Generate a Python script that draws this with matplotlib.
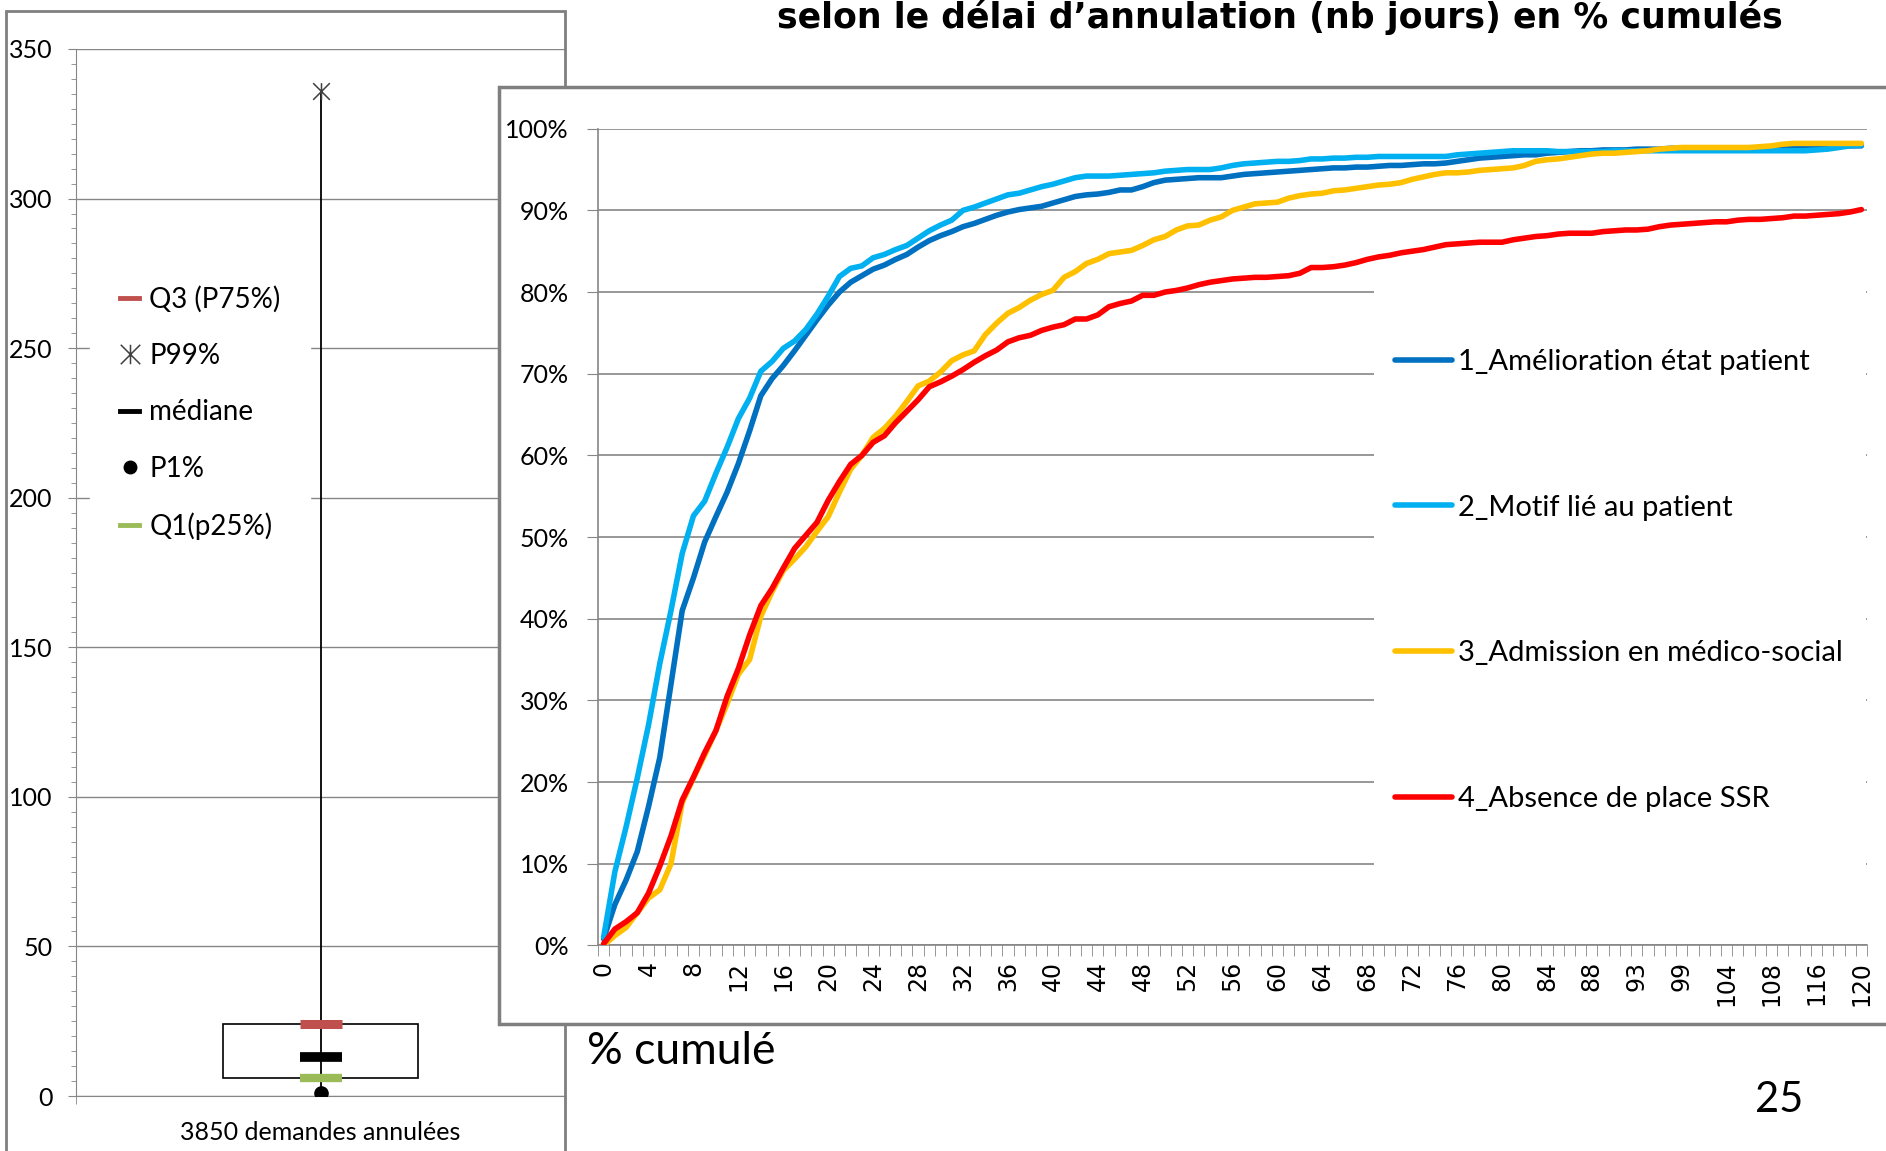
import numpy as np
import matplotlib
matplotlib.use('Agg')
import matplotlib.pyplot as plt
from matplotlib.patches import Rectangle
from matplotlib.lines import Line2D
from matplotlib.path import Path
from matplotlib.ticker import MultipleLocator

plt.rcParams['font.family'] = ['Lato', 'DejaVu Sans']

# ---- left panel : spread of the cancellation delay (days)
box_label = '3850 demandes annulées'
p1, q1, median, q3, p99 = 1, 6, 13, 24, 336
legend_left = ['Q3 (P75%)', 'P99%', 'médiane', 'P1%', 'Q1(p25%)']

# ---- right panel : cumulated % by cancellation delay (nb days)
days = list(range(0, 92)) + [93, 94, 95, 97, 99, 100, 101, 102, 104, 105, 106,
                             107, 108, 110, 112, 114, 116, 117, 118, 119, 120]

names = ['1_Amélioration état patient', '2_Motif lié au patient',
         '3_Admission en médico-social', '4_Absence de place SSR']
colors = ['#0070C0', '#00B0F0', '#FFC000', '#FF0000']

amelioration = [0.8, 5.0, 8.0, 11.5, 17.0, 23.0, 32.0, 41.0, 45.0, 49.4,
                52.5, 55.5, 59.0, 63.0, 67.3, 69.4, 71.0, 72.8, 74.7, 76.6,
                78.4, 80.0, 81.2, 82.0, 82.8, 83.3, 84.0, 84.6, 85.5, 86.3,
                86.9, 87.4, 88.0, 88.4, 88.9, 89.4, 89.8, 90.1, 90.3, 90.5,
                90.9, 91.3, 91.7, 91.9, 92.0, 92.2, 92.5, 92.5, 92.9, 93.4,
                93.7, 93.8, 93.9, 94.0, 94.0, 94.0, 94.2, 94.4, 94.5, 94.6,
                94.7, 94.8, 94.9, 95.0, 95.1, 95.2, 95.2, 95.3, 95.3, 95.4,
                95.5, 95.5, 95.6, 95.7, 95.7, 95.8, 96.0, 96.2, 96.4, 96.5,
                96.6, 96.7, 96.8, 96.8, 97.0, 97.1, 97.2, 97.3, 97.3, 97.4,
                97.4, 97.4, 97.5, 97.5, 97.5, 97.6, 97.6, 97.6, 97.6, 97.6,
                97.6, 97.6, 97.6, 97.6, 97.7, 97.8, 97.9, 97.9, 97.9, 97.9,
                97.9, 97.9, 97.9]

motif_patient = [1.0, 9.0, 14.5, 20.5, 27.0, 34.5, 41.0, 48.0, 52.6, 54.4,
                 57.8, 61.0, 64.5, 67.0, 70.3, 71.5, 73.1, 74.0, 75.4, 77.3,
                 79.5, 81.9, 82.9, 83.2, 84.2, 84.6, 85.2, 85.7, 86.6, 87.5,
                 88.2, 88.8, 90.0, 90.4, 90.9, 91.4, 91.9, 92.1, 92.5, 92.9,
                 93.2, 93.6, 94.0, 94.2, 94.2, 94.2, 94.3, 94.4, 94.5, 94.6,
                 94.8, 94.9, 95.0, 95.0, 95.0, 95.2, 95.5, 95.7, 95.8, 95.9,
                 96.0, 96.0, 96.1, 96.3, 96.3, 96.4, 96.4, 96.5, 96.5, 96.6,
                 96.6, 96.6, 96.6, 96.6, 96.6, 96.6, 96.8, 96.9, 97.0, 97.1,
                 97.2, 97.3, 97.3, 97.3, 97.3, 97.2, 97.2, 97.2, 97.2, 97.2,
                 97.3, 97.3, 97.3, 97.3, 97.3, 97.3, 97.3, 97.3, 97.3, 97.3,
                 97.3, 97.3, 97.3, 97.3, 97.3, 97.3, 97.3, 97.3, 97.4, 97.5,
                 97.7, 97.9, 98.0]

medico_social = [0.0, 1.2, 2.2, 4.0, 5.8, 6.8, 10.0, 17.5, 20.5, 23.3,
                 26.3, 29.6, 33.2, 35.0, 40.3, 43.3, 45.9, 47.3, 48.8, 50.7,
                 52.5, 55.5, 58.3, 60.0, 62.2, 63.3, 64.8, 66.6, 68.5, 69.1,
                 70.2, 71.6, 72.3, 72.8, 74.8, 76.2, 77.4, 78.1, 79.0, 79.7,
                 80.2, 81.8, 82.5, 83.5, 84.0, 84.7, 84.9, 85.1, 85.7, 86.4,
                 86.8, 87.6, 88.1, 88.2, 88.8, 89.2, 90.0, 90.4, 90.8, 90.9,
                 91.0, 91.5, 91.8, 92.0, 92.1, 92.4, 92.5, 92.7, 92.9, 93.1,
                 93.2, 93.4, 93.8, 94.1, 94.4, 94.6, 94.6, 94.7, 94.9, 95.0,
                 95.1, 95.2, 95.5, 96.0, 96.2, 96.3, 96.5, 96.7, 96.9, 97.0,
                 97.0, 97.1, 97.2, 97.3, 97.5, 97.6, 97.7, 97.7, 97.7, 97.7,
                 97.7, 97.7, 97.7, 97.8, 97.9, 98.1, 98.2, 98.2, 98.2, 98.2,
                 98.2, 98.2, 98.2]

absence_ssr = [0.2, 2.0, 2.9, 4.0, 6.4, 9.7, 13.4, 17.8, 20.6, 23.6,
               26.3, 30.5, 33.9, 38.0, 41.6, 43.7, 46.2, 48.6, 50.2, 51.8,
               54.5, 56.8, 58.9, 60.0, 61.6, 62.4, 64.0, 65.4, 66.8, 68.4,
               69.0, 69.7, 70.5, 71.4, 72.2, 72.9, 73.9, 74.4, 74.7, 75.3,
               75.7, 76.0, 76.7, 76.7, 77.2, 78.2, 78.6, 78.9, 79.6, 79.6,
               80.0, 80.2, 80.5, 80.9, 81.2, 81.4, 81.6, 81.7, 81.8, 81.8,
               81.9, 82.0, 82.3, 83.0, 83.0, 83.1, 83.3, 83.6, 84.0, 84.3,
               84.5, 84.8, 85.0, 85.2, 85.5, 85.8, 85.9, 86.0, 86.1, 86.1,
               86.1, 86.4, 86.6, 86.8, 86.9, 87.1, 87.2, 87.2, 87.2, 87.4,
               87.5, 87.6, 87.6, 87.7, 88.0, 88.2, 88.3, 88.4, 88.5, 88.6,
               88.6, 88.8, 88.9, 88.9, 89.0, 89.1, 89.3, 89.3, 89.4, 89.5,
               89.6, 89.8, 90.1]

series = [amelioration, motif_patient, medico_social, absence_ssr]

title = 'selon le délai d’annulation (nb jours) en % cumulés'

W, H = 1886, 1151
GRID = '#868686'
BORDER = '#7f7f7f'


def fx(px):
    return px / W


def fy(py):
    return 1 - py / H


fig = plt.figure(figsize=(W / 100, H / 100), dpi=100)

# ---------------- left panel (box) ----------------
ax1 = fig.add_axes([fx(76), fy(1096), fx(565) - fx(76), fy(49) - fy(1096)], zorder=0)
ax1.set_xlim(0.5, 1.5)
ax1.set_ylim(0, 350)
ax1.yaxis.set_major_locator(MultipleLocator(50))
ax1.yaxis.set_minor_locator(MultipleLocator(5))
ax1.grid(axis='y', color=GRID, lw=1)
ax1.set_axisbelow(True)
for s in ['top', 'right']:
    ax1.spines[s].set_visible(False)
for s in ['left', 'bottom']:
    ax1.spines[s].set_color(GRID)
ax1.tick_params(axis='y', which='major', length=6, color=GRID, pad=11, labelsize=18)
ax1.tick_params(axis='y', which='minor', length=3.5, color=GRID)
ax1.set_xticks([1])
ax1.set_xticklabels([box_label], fontsize=18)
ax1.set_xticks([0.5], minor=True)
ax1.tick_params(axis='x', which='major', length=0, pad=18)
ax1.tick_params(axis='x', which='minor', length=6, color=GRID)

ax1.add_patch(Rectangle((0.8, q1), 0.4, q3 - q1, fill=False, ec='black', lw=1.2, zorder=3))
ax1.plot([1, 1], [p1, p99], color='black', lw=1.3, zorder=3)

star = Path([(-1, -1), (1, 1), (-1, 1), (1, -1), (0, -1), (0, 1)],
            [Path.MOVETO, Path.LINETO, Path.MOVETO, Path.LINETO, Path.MOVETO, Path.LINETO])

ax1.plot(1, q3, marker='_', ms=30, mew=6.5, color='#C0504D', zorder=4)
ax1.plot(1, median, marker='_', ms=30, mew=7, color='black', zorder=4)
ax1.plot(1, q1, marker='_', ms=30, mew=6, color='#9BBB59', zorder=4)
ax1.plot(1, p1, marker='o', ms=9.5, color='black', ls='none', zorder=4)
ax1.plot(1, p99, marker=star, ms=12, mec='#404040', mfc='none', mew=1.1, ls='none', zorder=4)

h_left = [Line2D([], [], color='#C0504D', lw=3.5),
          Line2D([], [], ls='none', marker=star, ms=14, mec='#404040', mfc='none', mew=1.1),
          Line2D([], [], color='black', lw=3.5),
          Line2D([], [], ls='none', marker='o', ms=9, color='black'),
          Line2D([], [], color='#9BBB59', lw=3.5)]
ax1.legend(h_left, legend_left, loc='upper left',
           bbox_to_anchor=(fx(90), fy(256)), bbox_transform=fig.transFigure,
           frameon=True, facecolor='white', edgecolor='white', framealpha=1,
           fancybox=False, fontsize=20, handlelength=0.7, handletextpad=0.35,
           labelspacing=1.09, borderpad=1.08, borderaxespad=0)

fig.add_artist(Rectangle((fx(6), -0.02), fx(565) - fx(6), fy(11) + 0.02,
                         transform=fig.transFigure, fill=False, ec=BORDER, lw=2, zorder=1))

# ---------------- right panel (cumulated curves) ----------------
fig.add_artist(Rectangle((fx(499), fy(1024)), fx(1920) - fx(499), fy(87) - fy(1024),
                         transform=fig.transFigure, fc='white', ec=BORDER, lw=2.5, zorder=2))

ax2 = fig.add_axes([fx(598), fy(945.4), fx(1867) - fx(598), fy(128.7) - fy(945.4)], zorder=3)
ax2.patch.set_alpha(0)
x = np.arange(len(days))
for vals, name, c in zip(series, names, colors):
    ax2.plot(x, vals, color=c, lw=4, label=name, zorder=3, solid_capstyle='round')

ax2.set_xlim(-0.5, len(days) - 0.5)
ax2.set_ylim(0, 100)
ax2.set_yticks(range(0, 101, 10))
ax2.set_yticklabels([f'{v}%' for v in range(0, 101, 10)])
ax2.set_xticks(x[::4])
ax2.set_xticklabels([str(d) for d in days[::4]], rotation=90, fontsize=17,
                    family='DejaVu Sans')
ax2.set_xticks(np.arange(-0.5, len(days), 1), minor=True)
ax2.tick_params(axis='x', which='major', length=0, pad=11)
ax2.tick_params(axis='x', which='minor', length=8, color=GRID)
ax2.tick_params(axis='y', length=8, color=GRID, pad=13, labelsize=18)
ax2.grid(axis='y', color=GRID, lw=1.2)
ax2.set_axisbelow('line')
for s in ['top', 'right']:
    ax2.spines[s].set_visible(False)
for s in ['left', 'bottom']:
    ax2.spines[s].set_color(GRID)
    ax2.spines[s].set_linewidth(1.2)

# white box of the legend hides the grid behind it
ax2.add_patch(Rectangle((fx(1374), fy(875)), fx(1866) - fx(1374), fy(287) - fy(875),
                        transform=fig.transFigure, fc='white', ec='none',
                        zorder=1.8, clip_on=False))
leg2 = ax2.legend(loc='upper left', bbox_to_anchor=(fx(1395), fy(349)),
                  bbox_transform=fig.transFigure, frameon=False, fontsize=21,
                  handlelength=1.94, handletextpad=0.22, labelspacing=4.1,
                  borderpad=0, borderaxespad=0)

# ---------------- slide texts ----------------
fig.text(fx(1280), fy(17), title, ha='center', va='center', fontsize=25,
         fontweight='bold', family='DejaVu Sans', zorder=5)
fig.text(fx(587), fy(1052), '% cumulé', ha='left', va='center', fontsize=32, zorder=5)
fig.text(fx(1779), fy(1100), '25', ha='center', va='center', fontsize=30, zorder=5)

fig.savefig('out.png', dpi=100)
